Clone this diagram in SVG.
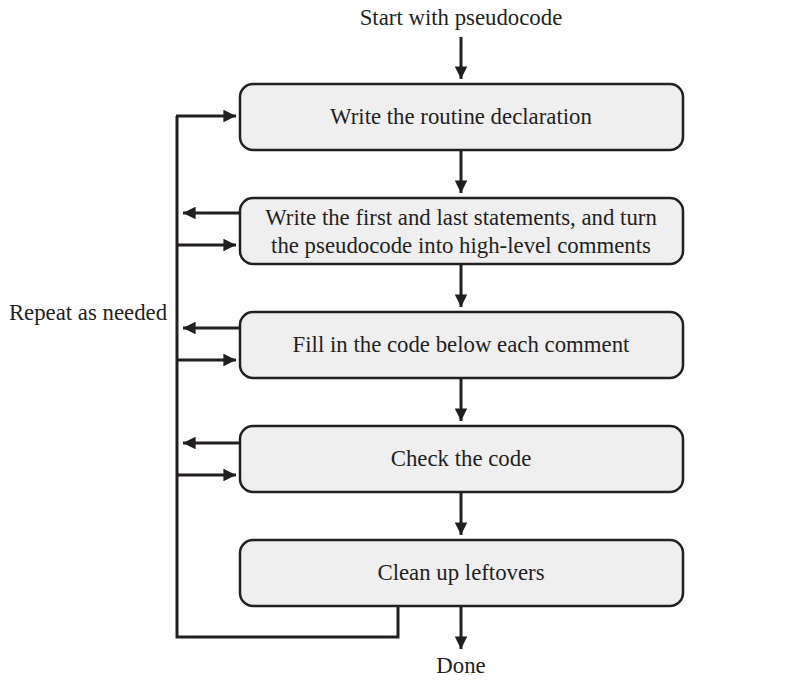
<svg xmlns="http://www.w3.org/2000/svg" width="800" height="693" viewBox="0 0 800 693">
<defs>
<marker id="ah" viewBox="0 0 10 10" refX="10" refY="5" markerWidth="4.2" markerHeight="4.2" orient="auto" markerUnits="strokeWidth">
<path d="M0,0 L10,5 L0,10 z" fill="#231f20"/>
</marker>
<style>
.box{fill:#efefef;stroke:#231f20;stroke-width:2.5}
.t{font-family:"Liberation Serif",serif;font-size:22.8px;fill:#231f20;text-anchor:middle}
.c{fill:none;stroke:#231f20;stroke-width:3}
.a{fill:none;stroke:#231f20;stroke-width:3;marker-end:url(#ah)}
</style>
</defs>
<rect width="800" height="693" fill="#fff"/>
<text class="t" x="461" y="25">Start with pseudocode</text>
<text class="t" x="461" y="673">Done</text>
<text class="t" x="88" y="320">Repeat as needed</text>
<g id="n1"><rect class="box" x="240" y="84" width="443" height="66" rx="13"/><text class="t" x="461" y="124">Write the routine declaration</text></g>
<g id="n2"><rect class="box" x="240" y="198" width="443" height="66" rx="13"/><text class="t" x="461" y="225">Write the first and last statements, and turn</text><text class="t" x="461" y="253">the pseudocode into high-level comments</text></g>
<g id="n3"><rect class="box" x="240" y="312" width="443" height="66" rx="13"/><text class="t" x="461" y="352">Fill in the code below each comment</text></g>
<g id="n4"><rect class="box" x="240" y="426" width="443" height="66" rx="13"/><text class="t" x="461" y="466">Check the code</text></g>
<g id="n5"><rect class="box" x="240" y="540" width="443" height="66" rx="13"/><text class="t" x="461" y="580">Clean up leftovers</text></g>
<g id="connectors">
<line class="a" x1="461" y1="37" x2="461" y2="79"/>
<line class="a" x1="461" y1="151" x2="461" y2="193"/>
<line class="a" x1="461" y1="265" x2="461" y2="307"/>
<line class="a" x1="461" y1="379" x2="461" y2="421"/>
<line class="a" x1="461" y1="493" x2="461" y2="535"/>
<line class="a" x1="461" y1="607" x2="461" y2="649"/>
<polyline class="c" points="398,606 398,637 177,637 177,116"/>
<line class="a" x1="176" y1="116" x2="236" y2="116"/>
<line class="a" x1="240" y1="213" x2="183" y2="213"/>
<line class="a" x1="177" y1="245" x2="236" y2="245"/>
<line class="a" x1="240" y1="328" x2="183" y2="328"/>
<line class="a" x1="177" y1="360" x2="236" y2="360"/>
<line class="a" x1="240" y1="443" x2="183" y2="443"/>
<line class="a" x1="177" y1="475" x2="236" y2="475"/>
</g>
</svg>
